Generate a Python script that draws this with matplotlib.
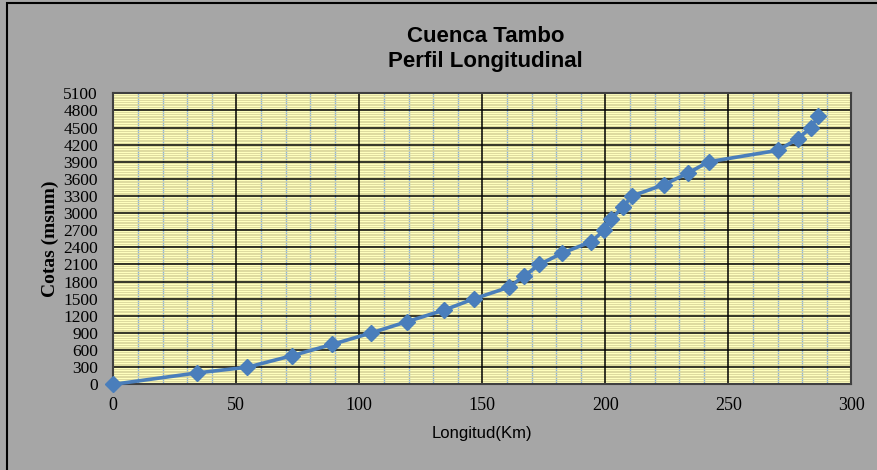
import numpy as np
import matplotlib.pyplot as plt
from matplotlib.patches import Rectangle
from matplotlib.ticker import MultipleLocator

# Perfil longitudinal - Cuenca Tambo
longitud_km = [0, 34.1, 54.5, 72.5, 89.0, 104.8, 119.5, 134.4, 146.7, 160.7,
               167.1, 173.2, 182.5, 194.3, 199.5, 202.3, 207.1, 210.8, 223.9,
               233.5, 242.0, 270.1, 278.2, 283.6, 286.6]
cotas_msnm = [0, 200, 300, 500, 700, 900, 1100, 1300, 1500, 1700,
              1900, 2100, 2300, 2500, 2700, 2900, 3100, 3300, 3500,
              3700, 3900, 4100, 4300, 4500, 4700]

title_lines = ["Cuenca Tambo", "Perfil Longitudinal"]

fig = plt.figure(figsize=(8.77, 4.70), dpi=100)
fig.patch.set_facecolor('#A6A6A6')
fig.patches.append(Rectangle((0.008, -0.05), 1.05, 1.043, transform=fig.transFigure,
                             fill=False, edgecolor='black', lw=1.5))

ax = fig.add_axes([0.1292, 0.1823, 0.8415, 0.6192])
ax.set_facecolor('#FFFFBE')

ax.set_xlim(0, 300)
ax.set_ylim(0, 5100)
ax.xaxis.set_major_locator(MultipleLocator(50))
ax.xaxis.set_minor_locator(MultipleLocator(10))
ax.yaxis.set_major_locator(MultipleLocator(300))
ax.yaxis.set_minor_locator(MultipleLocator(30))

# minor grid (thin) below, major lines drawn on top of it
ax.grid(which='minor', axis='y', color='#D8D49A', lw=0.6, zorder=0.5)
ax.grid(which='minor', axis='x', color='#8DB4E2', lw=1.0, zorder=0.5)
ax.set_axisbelow(True)
for xv in ax.get_xticks():
    ax.axvline(xv, color='black', lw=1.1, zorder=1.5)
for yv in ax.get_yticks():
    ax.axhline(yv, color='black', lw=1.1, zorder=1.5)

for s in ax.spines.values():
    s.set_color('#404040')
    s.set_linewidth(1.5)

ax.plot(longitud_km, cotas_msnm, color='#4A7EBB', lw=2.6, marker='D',
        markersize=8.5, clip_on=False, zorder=5)

ax.tick_params(which='both', length=0)
ax.tick_params(axis='y', pad=11)
ax.tick_params(axis='x', pad=9)
for lab in ax.get_yticklabels():
    lab.set_fontfamily('Liberation Serif')
    lab.set_fontsize(12.5)
for lab in ax.get_xticklabels():
    lab.set_fontfamily('Liberation Serif')
    lab.set_fontsize(13)

ax.set_ylabel('Cotas (msnm)', fontfamily='Liberation Serif', fontweight='bold',
              fontsize=14, labelpad=3)
ax.set_xlabel('Longitud(Km)', fontfamily='Liberation Sans', fontsize=12, labelpad=9)

fig.text(0.554, 0.922, title_lines[0], ha='center', va='center',
         fontfamily='Liberation Sans', fontweight='bold', fontsize=16)
fig.text(0.554, 0.869, title_lines[1], ha='center', va='center',
         fontfamily='Liberation Sans', fontweight='bold', fontsize=16)

fig.savefig('out.png', dpi=100, facecolor=fig.get_facecolor())
